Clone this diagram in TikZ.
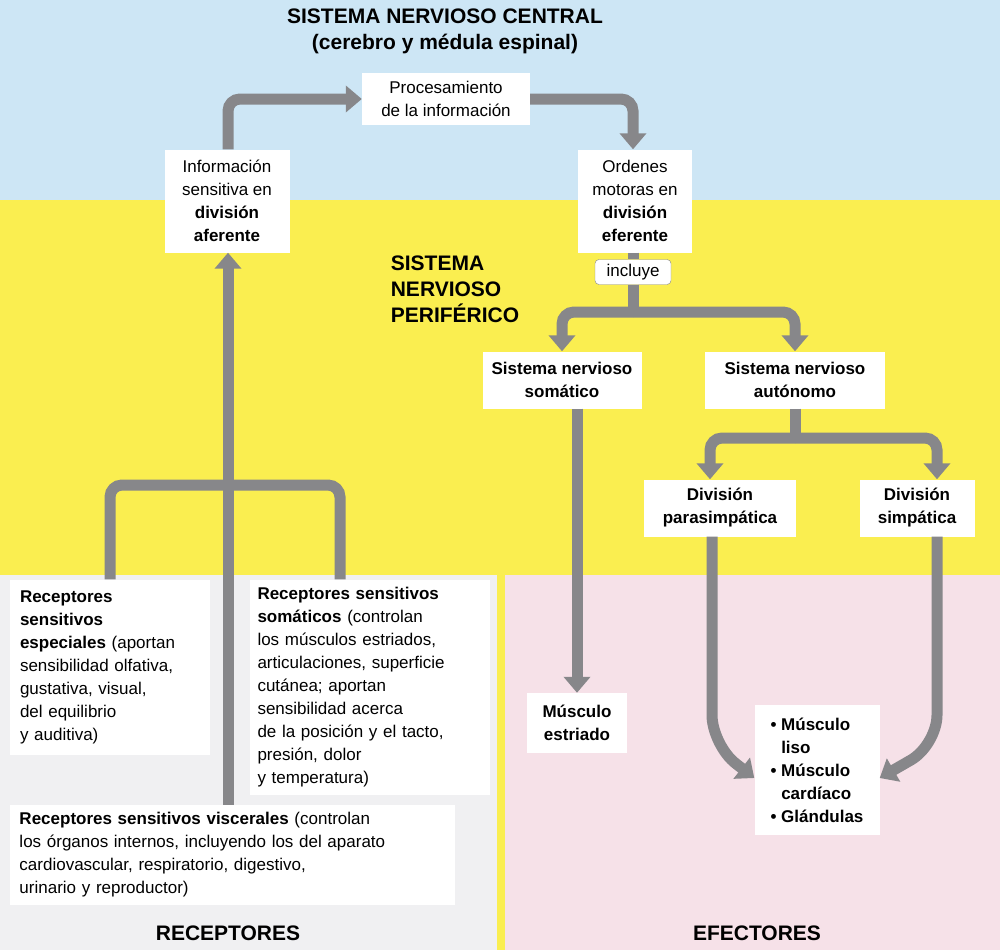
\documentclass[tikz,border=0pt]{standalone}
\usepackage{fontspec}
\setmainfont{Liberation Sans}
\usetikzlibrary{arrows.meta, positioning, calc}
\definecolor{fondoazul}{RGB}{205,230,245}
\definecolor{fondoamarillo}{RGB}{250,238,80}
\definecolor{fondorosa}{RGB}{246,225,232}
\definecolor{fondogris}{RGB}{240,240,242}
\definecolor{flecha}{RGB}{135,135,138}
\tikzset{
  caja/.style={draw=none, fill=white, align=center, inner sep=4pt, font=\fontsize{17}{23}\selectfont},
  negrita/.style={caja, font=\bfseries\fontsize{17}{23}\selectfont},
  cajaizq/.style={caja, align=left, inner sep=0pt},
  titulo/.style={font=\bfseries\fontsize{21}{26}\selectfont, align=center},
  via/.style={draw=flecha, line width=11pt, rounded corners=12pt},
  flechav/.style={via, -{Triangle[length=16pt,width=26pt]}}
}
\begin{document}
\begin{tikzpicture}[x=1pt,y=-1pt]
  % Fondos
  \fill[fondoazul] (0,0) rectangle (1000,200);
  \fill[fondoamarillo] (0,200) rectangle (1000,575);
  \fill[fondogris] (0,575) rectangle (497,950);
  \fill[fondorosa] (505,575) rectangle (1000,950);
  \fill[fondoamarillo] (497,575) rectangle (505,950);
  \useasboundingbox (0,0) rectangle (1000,950);

  % Titulos
  \node[titulo] (snc) at (445,31) {SISTEMA NERVIOSO CENTRAL\\(cerebro y médula espinal)};
  \node[titulo, align=left] (snp) at (455,289) {SISTEMA\\NERVIOSO\\PERIFÉRICO};
  \node[titulo] (rec) at (228,933) {RECEPTORES};
  \node[titulo] (efe) at (757,933) {EFECTORES};

  % Cajas
  \node[caja, minimum width=168pt, minimum height=52pt] (proc) at (446,99) {Procesamiento\\de la información};
  \node[caja, minimum width=125pt, minimum height=103pt] (afer) at (227,201) {Información\\sensitiva en\\\textbf{división}\\\textbf{aferente}};
  \node[caja, minimum width=114pt, minimum height=103pt] (efer) at (635,201) {Ordenes\\motoras en\\\textbf{división}\\\textbf{eferente}};
  \node[caja, draw=flecha, rounded corners=4pt, inner sep=3pt, minimum width=76pt, minimum height=25pt] (incl) at (633,272) {incluye};
  \node[negrita, minimum width=159pt, minimum height=57pt] (soma) at (562,380) {Sistema nervioso\\somático};
  \node[negrita, minimum width=180pt, minimum height=57pt] (auto) at (795,380) {Sistema nervioso\\autónomo};
  \node[negrita, minimum width=152pt, minimum height=57pt] (para) at (720,508) {División\\parasimpática};
  \node[negrita, minimum width=115pt, minimum height=57pt] (simp) at (917,508) {División\\simpática};
  \node[negrita, minimum width=100pt, minimum height=60pt] (estr) at (577,723) {Músculo\\estriado};
  \node[negrita, align=left, minimum width=125pt, minimum height=130pt] (liso) at (817,770) {• Músculo\\\phantom{• }liso\\• Músculo\\\phantom{• }cardíaco\\• Glándulas};
  \node[cajaizq, minimum width=200pt, minimum height=175pt, text width=180pt] (espe) at (110,667) {\textbf{Receptores}\\\textbf{sensitivos}\\\textbf{especiales} (aportan\\sensibilidad olfativa,\\gustativa, visual,\\del equilibrio\\y auditiva)};
  \node[cajaizq, minimum width=240pt, minimum height=215pt, text width=225pt] (somr) at (370,687) {\textbf{Receptores sensitivos}\\\textbf{somáticos} (controlan\\los músculos estriados,\\articulaciones, superficie\\cutánea; aportan\\sensibilidad acerca\\de la posición y el tacto,\\presión, dolor\\y temperatura)};
  \node[cajaizq, minimum width=445pt, minimum height=100pt, text width=425pt] (visc) at (232,855) {\textbf{Receptores sensitivos viscerales} (controlan\\los órganos internos, incluyendo los del aparato\\cardiovascular, respiratorio, digestivo,\\urinario y reproductor)};

  % Conectores
  \coordinate (unionr) at (228,485);
  \draw[via] (espe.north -| 110,0) |- (unionr) -| (somr.north -| 340,0);
  \draw[flechav] (visc.north -| 228,0) -- (afer.south -| 228,0);
  \draw[flechav] (afer.north -| 228,0) |- (proc.west);
  \draw[flechav] (proc.east) -| (efer.north -| 633,0);
  \draw[via] (efer.south -| 633,0) -- (incl.north);
  \coordinate (unionp) at (633,312);
  \draw[via] (incl.south) -- (unionp);
  \draw[flechav] (unionp) -| (soma.north);
  \draw[flechav] (unionp) -| (auto.north);
  \coordinate (uniona) at (795,438);
  \draw[via] (auto.south) -- (uniona);
  \draw[flechav] (uniona) -| (para.north -| 710,0);
  \draw[flechav] (uniona) -| (simp.north -| 937,0);
  \draw[flechav] (soma.south -| 577,0) -- (estr.north);
  \draw[flechav, rounded corners=30pt] (para.south -| 712,0) -- (712,745) -- (liso.west |- 0,778);
  \draw[flechav, rounded corners=30pt] (simp.south -| 937,0) -- (937,745) -- (liso.east |- 0,778);
\end{tikzpicture}
\end{document}
